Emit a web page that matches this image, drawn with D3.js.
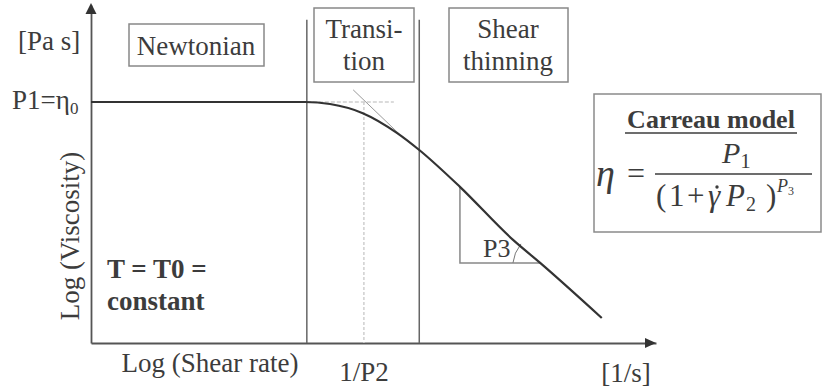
<!DOCTYPE html>
<html><head><meta charset="utf-8">
<script src="https://cdn.jsdelivr.net/npm/d3@7"></script>
<style>
body{margin:0;background:#fff}
svg{display:block}
</style>
</head><body>
<svg id="chart" width="825" height="392"></svg>
<script>
// Viscosity curve: log shear rate (x) vs log viscosity (y), arbitrary log units
const logShearRate = [0, 3.79, 4.23, 4.81, 5.42, 5.81, 6.53, 7.47, 7.95, 9.04];
const logViscosity = [7.13, 7.13, 7.07, 6.80, 6.21, 5.71, 4.62, 3.05, 2.37, 0.74];
// Boundaries of Newtonian | Transition | Shear thinning regions
const regionBounds = [3.82, 5.81];
const regionTop = 9.56;
// Critical shear rate 1/P2 and the zero-shear plateau guide
const criticalRate = [4.83];
const plateauGuide = [3.82, 5.36];
// Power-law tangent through the knee
const tangentX = [4.64, 5.47];
const tangentY = [7.49, 6.16];
// Slope triangle for P3 (corner x, right x; top y, bottom y)
const slopeX = [6.53, 7.95];
const slopeY = [4.62, 2.37];

const regionNames = [["Newtonian"], ["Transi-", "tion"], ["Shear", "thinning"]];

const ink = "#3c3c3c";
const serif = '"Liberation Serif"';
const svg = d3.select("#chart");
const root = svg.append("g");
const x = d3.scaleLinear().domain([0, 10]).range([91, 656]);
const y = d3.scaleLinear().domain([0, 10]).range([343, 5]);

const axisColor = "#555";

// Axes (no ticks) with arrowheads
root.append("g").attr("transform", `translate(0,${y(0)})`)
  .call(d3.axisBottom(x).tickValues([]).tickSizeOuter(0))
  .call(g => g.select(".domain").attr("stroke", axisColor).attr("stroke-width", 1.8));
root.append("g").attr("transform", `translate(${x(0)},0)`)
  .call(d3.axisLeft(y).tickValues([]).tickSizeOuter(0))
  .call(g => g.select(".domain").attr("stroke", axisColor).attr("stroke-width", 1.8));
root.append("path")
  .attr("d", `M${x(10)},${y(0)} l-11,-5 v10 z`).attr("fill", "#333");
root.append("path")
  .attr("d", `M${x(0)},${y(10) - 2} l-5.5,11 h11 z`).attr("fill", "#333");

// Region boundaries
root.selectAll(".bound").data(regionBounds).join("line")
  .attr("x1", d => x(d)).attr("x2", d => x(d))
  .attr("y1", y(regionTop)).attr("y2", y(0))
  .attr("stroke", "#666").attr("stroke-width", 1.5);

// Guides for 1/P2
root.append("line")
  .attr("x1", x(criticalRate[0])).attr("x2", x(criticalRate[0]))
  .attr("y1", y(logViscosity[0])).attr("y2", y(0))
  .attr("stroke", "#cfcfcf").attr("stroke-width", 1.5).attr("stroke-dasharray", "3,2");
root.append("line")
  .attr("x1", x(plateauGuide[0])).attr("x2", x(plateauGuide[1]))
  .attr("y1", y(logViscosity[0])).attr("y2", y(logViscosity[0]))
  .attr("stroke", "#cfcfcf").attr("stroke-width", 1.5).attr("stroke-dasharray", "4,2");
root.append("line")
  .attr("x1", x(tangentX[0])).attr("x2", x(tangentX[1]))
  .attr("y1", y(tangentY[0])).attr("y2", y(tangentY[1]))
  .attr("stroke", "#9a9a9a").attr("stroke-width", 1);

// Slope triangle
root.append("path")
  .attr("d", `M${x(slopeX[0])},${y(slopeY[0])} V${y(slopeY[1])} H${x(slopeX[1])}`)
  .attr("fill", "none").attr("stroke", "#888").attr("stroke-width", 1.5);
root.append("path")
  .attr("d", `M${x(slopeX[0]) + 53},${y(slopeY[1])} q1,-10 8,-19`)
  .attr("fill", "none").attr("stroke", "#777").attr("stroke-width", 1);
root.append("text").attr("x", x(slopeX[0]) + 23).attr("y", y(slopeY[1]) - 6)
  .attr("font-size", 26).text("P3");

// Viscosity curve
const pts = logShearRate.map((d, i) => [d, logViscosity[i]]);
root.append("path").datum(pts)
  .attr("d", d3.line().x(d => x(d[0])).y(d => y(d[1])).curve(d3.curveMonotoneX))
  .attr("fill", "none").attr("stroke", "#333").attr("stroke-width", 2.2);

// Region label boxes
const boxes = [
  {x: 129, y: 24, w: 135, h: 42, cx: 196, lines: regionNames[0], base: [55]},
  {x: 314, y: 8, w: 100, h: 74, cx: 364, lines: regionNames[1], base: [38, 70]},
  {x: 449, y: 8, w: 119, h: 74, cx: 508, lines: regionNames[2], base: [38, 70]}
];
boxes.forEach(b => {
  root.append("rect").attr("x", b.x).attr("y", b.y).attr("width", b.w).attr("height", b.h)
    .attr("fill", "#fff").attr("stroke", "#888").attr("stroke-width", 1.5);
  b.lines.forEach((t, i) => root.append("text").attr("x", b.cx).attr("y", b.base[i])
    .attr("text-anchor", "middle").attr("font-size", 27).text(t));
});

// Axis labels
root.append("text").attr("x", 18).attr("y", 50).attr("font-size", 27).text("[Pa s]");
const p1 = root.append("text").attr("x", 12).attr("y", 109).attr("font-size", 27);
p1.append("tspan").text("P1=η");
p1.append("tspan").attr("font-size", 17).attr("dy", 5).text("0");
root.append("text").attr("transform", "translate(79,236) rotate(-90)")
  .attr("text-anchor", "middle").attr("font-size", 27).text("Log (Viscosity)");
root.append("text").attr("x", 210).attr("y", 372).attr("text-anchor", "middle")
  .attr("font-size", 27).text("Log (Shear rate)");
root.append("text").attr("x", x(criticalRate[0])).attr("y", 381).attr("text-anchor", "middle")
  .attr("font-size", 27).text("1/P2");
root.append("text").attr("x", 626).attr("y", 382).attr("text-anchor", "middle")
  .attr("font-size", 27).text("[1/s]");

// Process condition
root.append("text").attr("x", 107).attr("y", 278).attr("font-size", 27)
  .attr("font-weight", "bold").text("T = T0 =");
root.append("text").attr("x", 107).attr("y", 310).attr("font-size", 27)
  .attr("font-weight", "bold").text("constant");

// Carreau model box
root.append("rect").attr("x", 594).attr("y", 94).attr("width", 227).attr("height", 138)
  .attr("fill", "#fff").attr("stroke", "#8a8a8a").attr("stroke-width", 1.5);
root.append("text").attr("x", 711).attr("y", 128).attr("text-anchor", "middle")
  .attr("font-size", 26).attr("font-weight", "bold").text("Carreau model");
root.append("line").attr("x1", 625).attr("x2", 797).attr("y1", 133).attr("y2", 133)
  .attr("stroke", ink).attr("stroke-width", 1.5);
root.append("text").attr("x", 596).attr("y", 186).attr("font-size", 38)
  .attr("font-style", "italic").text("η");
root.append("text").attr("x", 627).attr("y", 184).attr("font-size", 32).text("=");
root.append("line").attr("x1", 655).attr("x2", 812).attr("y1", 174).attr("y2", 174)
  .attr("stroke", ink).attr("stroke-width", 1.5);
const num = root.append("text").attr("x", 722).attr("y", 163).attr("font-size", 30);
num.append("tspan").attr("font-style", "italic").text("P");
num.append("tspan").attr("font-size", 21).attr("dy", 5).text("1");
// Denominator: (1 + γ-dot P2 )^P3
const den = root.append("text").attr("y", 206).attr("font-size", 31);
den.append("tspan").attr("x", 656).text("(");
den.append("tspan").attr("x", 669).text("1");
den.append("tspan").attr("x", 687).text("+");
den.append("tspan").attr("x", 708).attr("font-style", "italic").text("γ");
den.append("tspan").attr("x", 726).attr("font-style", "italic").text("P");
den.append("tspan").attr("x", 746).attr("font-size", 20).attr("dy", 5).text("2");
den.append("tspan").attr("x", 766).attr("dy", -5).text(")");
den.append("tspan").attr("x", 777).attr("font-style", "italic").attr("font-size", 18).attr("dy", -14).text("P");
den.append("tspan").attr("x", 788).attr("font-size", 12).attr("dy", 3).text("3");
// Time-derivative dot over gamma
root.append("circle").attr("cx", 717).attr("cy", 187).attr("r", 1.7).attr("fill", ink);

// Typeface and ink for every label
root.selectAll("text").attr("font-family", serif).attr("fill", ink);
</script>
</body></html>
